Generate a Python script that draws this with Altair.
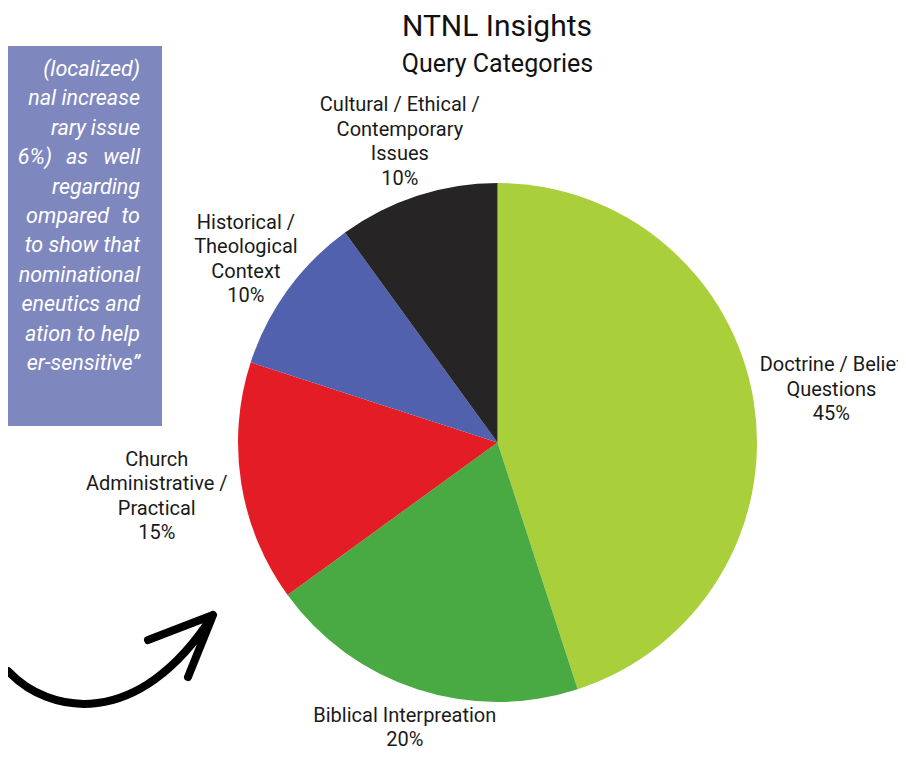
import altair as alt
import pandas as pd

# ---------------- data ----------------
categories = [
    "Doctrine / Belief Questions",
    "Biblical Interpreation",
    "Church Administrative / Practical",
    "Historical / Theological Context",
    "Cultural / Ethical / Contemporary Issues",
]
label_lines = [
    "Doctrine / Belief\nQuestions",
    "Biblical Interpreation",
    "Church\nAdministrative /\nPractical",
    "Historical /\nTheological\nContext",
    "Cultural / Ethical /\nContemporary\nIssues",
]
shares = [45, 20, 15, 10, 10]
colors = ["#A9CF3B", "#49A942", "#E31C25", "#5161AD", "#262425"]

title_text = "NTNL Insights"
subtitle_text = "Query Categories"

# visible (cropped) part of the side note, one entry per line; lines with
# justified gaps are split into words
note_lines = [
    ["(localized)"],
    ["nal increase"],
    ["rary", "issue"],
    ["6%)", "as", "well"],
    ["regarding"],
    ["ompared", "to"],
    ["to show that"],
    ["nominational"],
    ["eneutics and"],
    ["ation to help"],
    ["er-sensitive\u201d"],
]

# ---------------- layout (pixels, plot coordinates) ----------------
W, H = 890, 742
CX, CY, R = 489.5, 434.5, 259.5
label_radius = [338, 300, 345, 311, 316]
LH = 24.5
NOTE_RIGHT = 132
NOTE_TOP_BASE = 68
NOTE_STEP = 29.4
WORD_RIGHT = {"rary": 78, "ompared": 101, "6%)": 44, "as": 80}

df = pd.DataFrame({
    "category": categories,
    "label": [f"{l}\n{v}%" for l, v in zip(label_lines, shares)],
    "share": shares,
    "order": list(range(len(categories))),
    "lr": label_radius,
    "nlines": [l.count("\n") + 2 for l in label_lines],
})

note_rows = []
for i, words in enumerate(note_lines):
    y = NOTE_TOP_BASE + i * NOTE_STEP
    for w in words:
        note_rows.append({"t": w, "x": WORD_RIGHT.get(w, NOTE_RIGHT), "y": y})
note_df = pd.DataFrame(note_rows)

one = pd.DataFrame({"a": [0]})

pie = alt.Chart(df).mark_arc(outerRadius=R).encode(
    theta=alt.Theta("share:Q", stack=True),
    color=alt.Color("category:N", scale=alt.Scale(domain=categories, range=colors), legend=None),
    order=alt.Order("order:Q"),
    x=alt.value(CX),
    y=alt.value(CY),
)

labels = alt.Chart(df).transform_window(
    cum="sum(share)", sort=[alt.SortField("order")], frame=[None, 0]
).transform_joinaggregate(
    total="sum(share)"
).transform_calculate(
    ang="2 * PI * (datum.cum - datum.share / 2) / datum.total"
).transform_calculate(
    lx=f"{CX} + datum.lr * sin(datum.ang)",
    ly=f"{CY} - datum.lr * cos(datum.ang) - (datum.nlines - 1) * {LH} / 2",
).mark_text(
    font="Roboto", fontSize=20, lineBreak="\n", lineHeight=LH,
    align="center", baseline="middle", color="#1a1a1a",
).encode(
    x=alt.X("lx:Q", scale=None),
    y=alt.Y("ly:Q", scale=None),
    text="label:N",
)

title = alt.Chart(one).mark_text(
    text=title_text, font="Roboto", fontSize=30, align="center",
    baseline="alphabetic", color="#111111",
).encode(x=alt.value(489), y=alt.value(28))

subtitle = alt.Chart(one).mark_text(
    text=subtitle_text, font="Roboto", fontSize=25, align="center",
    baseline="alphabetic", color="#111111",
).encode(x=alt.value(489.5), y=alt.value(64))

note_box = alt.Chart(one).mark_rect(color="#7F87BF").encode(
    x=alt.value(-10), x2=alt.value(154), y=alt.value(38), y2=alt.value(418)
)

note_text = alt.Chart(note_df).mark_text(
    font="Roboto", fontSize=21.5, fontStyle="italic", align="right",
    baseline="alphabetic", color="#FFFFFF",
).encode(
    x=alt.X("x:Q", scale=None),
    y=alt.Y("y:Q", scale=None),
    text="t:N",
)

arrow_path = (
    "M -100 11 C -60 54 30 72 105 -45 "
    "M 40 -20 L 105 -45 L 80 17"
)
arrow = alt.Chart(one).mark_point(
    shape=arrow_path, size=4, filled=False, color="#000000", opacity=1,
    strokeWidth=8, strokeCap="round", strokeJoin="round",
).encode(x=alt.value(100), y=alt.value(652))

chart = alt.layer(
    note_box, note_text, arrow, pie, labels, title, subtitle
).properties(
    width=W, height=H, autosize=alt.AutoSizeParams(type="none"), padding=0,
).configure_view(stroke=None)

chart.save("out.html", embed_options={"renderer": "svg", "actions": False})
